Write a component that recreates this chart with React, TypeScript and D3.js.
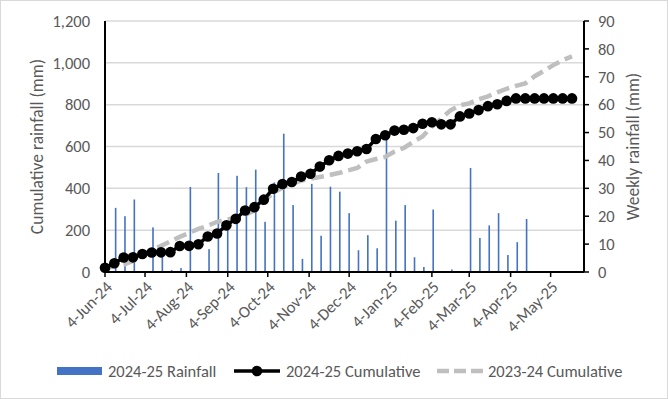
import React from 'react';
import * as d3 from 'd3';

// weekly data, first week is 4-Jun-24
const startDate = '4-Jun-24';
const weeklyRain = [
  0, 23, 20, 26, 0, 16, 7, 0.7, 1.4, 30.5,
  0.2, 8.2, 35.5, 16, 34.5, 30.4, 36.7, 18, 32.1, 49.6,
  24, 4.7, 31.6, 13, 30.6, 28.8, 21.1, 7.8, 13.2, 8.5,
  47.6, 18.4, 24, 5.3, 1.8, 22.4, 0, 0.9, 0, 37.3,
  12.2, 16.7, 21.1, 6.1, 10.7, 19, 0, 0, 0, 0, 0
];
const cumulative2425 = [
  20, 42, 69, 70, 86, 93, 94, 95, 124, 125,
  133, 170, 184, 223, 254, 294, 310, 346, 398, 421,
  430, 456, 470, 504, 534, 555, 566, 577, 588, 636,
  654, 676, 680, 688, 709, 716, 706, 706, 744, 758,
  774, 793, 802, 818, 830, 830, 830, 830, 830, 830, 830
];
const cumulative2324 = [
  15, 29, 36, 53, 77, 106, 125, 146, 168, 187,
  206, 221, 240, 250, 259, 274, 293, 336, 379, 403,
  422, 437, 446, 454, 463, 473, 485, 497, 528, 540,
  550, 576, 593, 622, 648, 696, 734, 773, 797, 806,
  826, 840, 859, 876, 890, 902, 936, 962, 989, 1013, 1031
];
const xTickLabels = [
  '4-Jun-24', '4-Jul-24', '4-Aug-24', '4-Sep-24', '4-Oct-24', '4-Nov-24',
  '4-Dec-24', '4-Jan-25', '4-Feb-25', '4-Mar-25', '4-Apr-25', '4-May-25'
];
const xEndLabel = '29-May-25';
const leftTicks = [0, 200, 400, 600, 800, 1000, 1200];
const rightTicks = [0, 10, 20, 30, 40, 50, 60, 70, 80, 90];
const legendItems = ['2024-25 Rainfall', '2024-25 Cumulative', '2023-24 Cumulative'];

const W = 668;
const H = 399;
const margin = { top: 21, right: 84, bottom: 127, left: 105 };
const font = 'Carlito, Calibri, Lato, sans-serif';
const grey = '#595959';
const fs = 16.5;

const parse = d3.utcParse('%d-%b-%y');

export default function App() {
  const start = parse(startDate) as Date;
  const dates = weeklyRain.map((_, i) => d3.utcDay.offset(start, i * 7));

  const x = d3.scaleUtc()
    .domain([start, parse(xEndLabel) as Date])
    .range([margin.left, W - margin.right]);
  const yL = d3.scaleLinear().domain([0, 1200]).range([H - margin.bottom, margin.top]);
  const yR = d3.scaleLinear().domain([0, 90]).range([H - margin.bottom, margin.top]);

  const line = d3.line<number>()
    .x((_, i) => x(dates[i]))
    .y(d => yL(d));

  const y0 = H - margin.bottom;
  const xL = margin.left;
  const xR = W - margin.right;
  const ticks = xTickLabels.map(l => ({ l, d: parse(l) as Date }));
  const ly = 371;

  return (
    <svg width={W} height={H} style={{ position: 'absolute', left: 0, top: 0, fontFamily: font }}>
      <rect x={0.5} y={0.5} width={W - 1} height={H - 1} fill="#fff" stroke="#d9d9d9" />

      {/* gridlines */}
      {leftTicks.filter(t => t > 0).map(t => (
        <line key={t} x1={xL} x2={xR} y1={yL(t)} y2={yL(t)} stroke="#d9d9d9" strokeWidth={1.5} />
      ))}

      {/* weekly bars */}
      {weeklyRain.map((v, i) => v > 0 && (
        <rect key={i} x={x(dates[i]) + 0.5} y={yR(v)} width={1.6} height={y0 - yR(v)} fill="#4472C4" />
      ))}

      {/* 2023-24 cumulative */}
      <path d={line(cumulative2324) || ''} fill="none" stroke="#bfbfbf" strokeWidth={4.5}
        strokeDasharray="13,6" />

      {/* 2024-25 cumulative */}
      <path d={line(cumulative2425) || ''} fill="none" stroke="#000" strokeWidth={3.5} />
      {cumulative2425.map((v, i) => (
        <circle key={i} cx={x(dates[i])} cy={yL(v)} r={5.3} fill="#000" />
      ))}

      {/* axes */}
      <line x1={xL} x2={xL} y1={margin.top} y2={y0} stroke="#000" strokeWidth={2} />
      <line x1={xR} x2={xR} y1={margin.top} y2={y0} stroke="#000" strokeWidth={2} />
      <line x1={xL} x2={xR} y1={y0} y2={y0} stroke="#000" strokeWidth={2} />
      {rightTicks.map(t => (
        <line key={t} x1={xR} x2={xR + 5} y1={yR(t)} y2={yR(t)} stroke="#000" strokeWidth={1.5} />
      ))}
      {ticks.map(t => (
        <line key={t.l} x1={x(t.d)} x2={x(t.d)} y1={y0} y2={y0 + 5} stroke="#000" strokeWidth={1.5} />
      ))}

      {leftTicks.map(t => (
        <text key={t} x={xL - 15} y={yL(t)} dy="0.35em" textAnchor="end" fontSize={fs} fill={grey}>
          {d3.format(',')(t)}
        </text>
      ))}
      {rightTicks.map(t => (
        <text key={t} x={xR + 14} y={yR(t)} dy="0.35em" textAnchor="start" fontSize={fs} fill={grey}>
          {t}
        </text>
      ))}
      {ticks.map(t => (
        <text key={t.l} transform={`translate(${x(t.d) + 4},${y0 + 12}) rotate(-45)`}
          textAnchor="end" dy="0.35em" fontSize={fs} fill={grey}>
          {t.l}
        </text>
      ))}

      <text transform={`translate(37,${(margin.top + y0) / 2}) rotate(-90)`} textAnchor="middle"
        dy="0.35em" fontSize={17.5} fill={grey}>Cumulative rainfall (mm)</text>
      <text transform={`translate(633,${(margin.top + y0) / 2}) rotate(-90)`} textAnchor="middle"
        dy="0.35em" fontSize={17.5} fill={grey}>Weekly rainfall (mm)</text>

      {/* legend */}
      <g fontSize={fs} fill={grey}>
        <rect x={57} y={ly - 4} width={45} height={8} fill="#4472C4" />
        <text x={108} y={ly} dy="0.35em">{legendItems[0]}</text>
        <line x1={234} x2={280} y1={ly} y2={ly} stroke="#000" strokeWidth={3.5} />
        <circle cx={257} cy={ly} r={5.3} fill="#000" />
        <text x={286} y={ly} dy="0.35em">{legendItems[1]}</text>
        <line x1={437} x2={483} y1={ly} y2={ly} stroke="#bfbfbf" strokeWidth={4.5} strokeDasharray="12,5" />
        <text x={488} y={ly} dy="0.35em">{legendItems[2]}</text>
      </g>
    </svg>
  );
}
